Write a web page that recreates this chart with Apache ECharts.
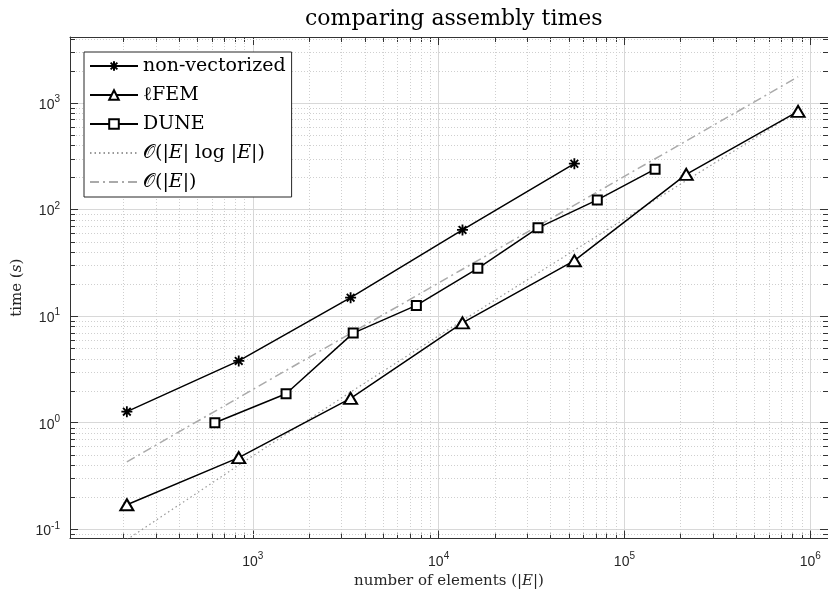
<!DOCTYPE html>
<html>
<head>
    <meta charset="utf-8">
    <title>comparing assembly times</title>
    <script src="https://cdn.jsdelivr.net/npm/echarts@6/dist/echarts.min.js"></script>
    <style>
        html, body { margin: 0; padding: 0; background: #fff; }
        #main { width: 828px; height: 594px; }
    </style>
</head>
<body>
    <div id="main"></div>
    <script>
        // values
        var elems = [210, 840, 3360, 13440, 53760, 215040, 860160];
        var nonvecTime = [1.27, 3.80, 14.9, 64.4, 269];
        var lfemTime = [0.17, 0.47, 1.69, 8.65, 33.1, 214, 834];
        var duneElems = [625, 1510, 3470, 7590, 16260, 34260, 71440, 146200];
        var duneTime = [1.0, 1.87, 6.93, 12.6, 28.1, 67.3, 123, 239];
        var nlognTime = [0.08, 0.40, 1.94, 9.1, 41.5, 187, 834];
        var linElems = [210, 860160];
        var linTime = [0.43, 1760];
        var names = ['non-vectorized', 'ℓFEM', 'DUNE', '𝒪(|E| log |E|)', '𝒪(|E|)'];

        var xMin = 103.8, xMax = 1.246e6;
        var yMin = 0.0818, yMax = 4155;

        function pairs(xs, ys) {
            return ys.map(function (y, i) { return [xs[i], y]; });
        }
        // minor grid values 2..9 x 10^k
        function minors(lo, hi) {
            var out = [];
            for (var k = -3; k <= 7; k++) {
                for (var m = 2; m <= 9; m++) {
                    var v = m * Math.pow(10, k);
                    if (v > lo && v < hi) out.push(v);
                }
            }
            return out;
        }
        var minorX = minors(xMin, xMax);
        var minorY = minors(yMin, yMax);

        var axisCol = '#333';
        var serif = 'DejaVu Serif';

        function powLabel(v) {
            var e = Math.log10(v);
            if (Math.abs(e - Math.round(e)) > 1e-6) return '';
            return '10{s|' + Math.round(e) + '}';
        }
        var labelStyle = {
            fontFamily: 'Liberation Sans',
            fontSize: 14,
            color: '#262626',
            formatter: powLabel,
            showMinLabel: false,
            showMaxLabel: false,
            rich: { s: { fontFamily: 'Liberation Sans', fontSize: 10, color: '#262626', padding: [0, 0, 11, 0] } }
        };
        var nameStyle = {
            fontFamily: serif, fontSize: 15, color: '#262626',
            rich: { i: { fontFamily: serif, fontSize: 15, fontStyle: 'italic', color: '#262626' } }
        };

        function logAxis(pos, mn, mx, main) {
            return {
                type: 'log',
                logBase: 10,
                position: pos,
                min: mn,
                max: mx,
                axisLine: { show: true, onZero: false, lineStyle: { color: axisCol, width: 1 } },
                axisTick: { show: true, inside: true, length: 8, lineStyle: { color: axisCol } },
                axisLabel: main ? labelStyle : { show: false },
                splitLine: { show: main, lineStyle: { color: '#d8d8d8', width: 1 } },
                minorTick: { show: false },
                minorSplitLine: { show: false }
            };
        }

        function minorXItem(params, api) {
            var cs = params.coordSys;
            var x = Math.round(api.coord([api.value(0), 1])[0]) + 0.5;
            var t = cs.y, b = cs.y + cs.height;
            return { type: 'group', children: [
                { type: 'line', shape: { x1: x, y1: t, x2: x, y2: b }, style: { stroke: '#cfcfcf', lineWidth: 1, lineDash: [1, 2] } },
                { type: 'line', shape: { x1: x, y1: b, x2: x, y2: b - 5 }, style: { stroke: axisCol, lineWidth: 1 } },
                { type: 'line', shape: { x1: x, y1: t, x2: x, y2: t + 5 }, style: { stroke: axisCol, lineWidth: 1 } }
            ] };
        }
        function minorYItem(params, api) {
            var cs = params.coordSys;
            var y = Math.round(api.coord([1000, api.value(1)])[1]) + 0.5;
            var l = cs.x, r = cs.x + cs.width;
            return { type: 'group', children: [
                { type: 'line', shape: { x1: l, y1: y, x2: r, y2: y }, style: { stroke: '#cfcfcf', lineWidth: 1, lineDash: [1, 2] } },
                { type: 'line', shape: { x1: l, y1: y, x2: l + 5, y2: y }, style: { stroke: axisCol, lineWidth: 1 } },
                { type: 'line', shape: { x1: r, y1: y, x2: r - 5, y2: y }, style: { stroke: axisCol, lineWidth: 1 } }
            ] };
        }

        var star = 'path://M5,0L5,10M0,5L10,5M1.5,1.5L8.5,8.5M1.5,8.5L8.5,1.5';

        var myChart = echarts.init(document.getElementById('main'));
        var option = {
            animation: false,
            backgroundColor: '#fff',
            title: {
                text: 'comparing assembly times',
                left: 300,
                top: 3,
                textStyle: { fontFamily: serif, fontSize: 22, fontWeight: 'normal', color: '#000' }
            },
            legend: {
                data: [
                    { name: names[0] },
                    { name: names[1] },
                    { name: names[2] },
                    { name: names[3], itemStyle: { opacity: 0 } },
                    { name: names[4], itemStyle: { opacity: 0 } }
                ],
                orient: 'vertical',
                left: 84,
                top: 52,
                padding: [3, 6, 4, 5],
                itemGap: 7,
                itemWidth: 48,
                itemHeight: 12,
                selectedMode: false,
                backgroundColor: '#fff',
                borderColor: '#262626',
                borderWidth: 1,
                borderRadius: 0,
                textStyle: {
                    fontFamily: serif, fontSize: 19, color: '#000', lineHeight: 22,
                    rich: { i: { fontFamily: serif, fontSize: 19, fontStyle: 'italic', color: '#000' } }
                },
                formatter: function (n) {
                    return n.indexOf('|') >= 0 ? n.replace(/E/g, '{i|E}') : n;
                }
            },
            grid: { left: 70, right: -2, top: 37, bottom: 55, containLabel: false },
            xAxis: [
                Object.assign(logAxis('bottom', xMin, xMax, true), {
                    name: 'number of elements (|{i|E}|)',
                    nameLocation: 'middle',
                    nameGap: 34,
                    nameTextStyle: nameStyle,
                    axisLabel: Object.assign({}, labelStyle, { margin: 13 })
                }),
                logAxis('top', xMin, xMax, false)
            ],
            yAxis: [
                Object.assign(logAxis('left', yMin, yMax, true), {
                    name: 'time ({i|s})',
                    nameLocation: 'middle',
                    nameGap: 44,
                    nameTextStyle: nameStyle,
                    axisLabel: Object.assign({}, labelStyle, { margin: 10, padding: [4, 0, 0, 0] })
                }),
                logAxis('right', yMin, yMax, false)
            ],
            series: [
                { type: 'custom', silent: true, z: 1, clip: true, renderItem: minorXItem,
                  data: minorX.map(function (v) { return [v, 1]; }) },
                { type: 'custom', silent: true, z: 1, clip: true, renderItem: minorYItem,
                  data: minorY.map(function (v) { return [1000, v]; }) },
                {
                    name: names[0], type: 'line', z: 4, data: pairs(elems, nonvecTime),
                    symbol: star, symbolSize: 11,
                    lineStyle: { color: '#000', width: 1.5 },
                    itemStyle: { color: '#000', borderColor: '#000', borderWidth: 1.8 }
                },
                {
                    name: names[1], type: 'line', z: 4, data: pairs(elems, lfemTime),
                    symbol: 'emptyTriangle', symbolSize: [13, 11],
                    lineStyle: { color: '#000', width: 1.5 },
                    itemStyle: { color: '#000', borderColor: '#000', borderWidth: 1.5 }
                },
                {
                    name: names[2], type: 'line', z: 4, data: pairs(duneElems, duneTime),
                    symbol: 'emptyRect', symbolSize: 9,
                    lineStyle: { color: '#000', width: 1.5 },
                    itemStyle: { color: '#000', borderColor: '#000', borderWidth: 1.5 }
                },
                {
                    name: names[3], type: 'line', z: 3, data: pairs(elems, nlognTime),
                    symbol: 'none',
                    lineStyle: { color: '#999', width: 1.2, type: [1.5, 3] },
                    itemStyle: { color: '#999' }
                },
                {
                    name: names[4], type: 'line', z: 3, data: pairs(linElems, linTime),
                    symbol: 'none',
                    lineStyle: { color: '#aaa', width: 1.5, type: [9, 4, 2, 4] },
                    itemStyle: { color: '#aaa' }
                }
            ]
        };
        myChart.setOption(option);
    </script>
</body>
</html>
